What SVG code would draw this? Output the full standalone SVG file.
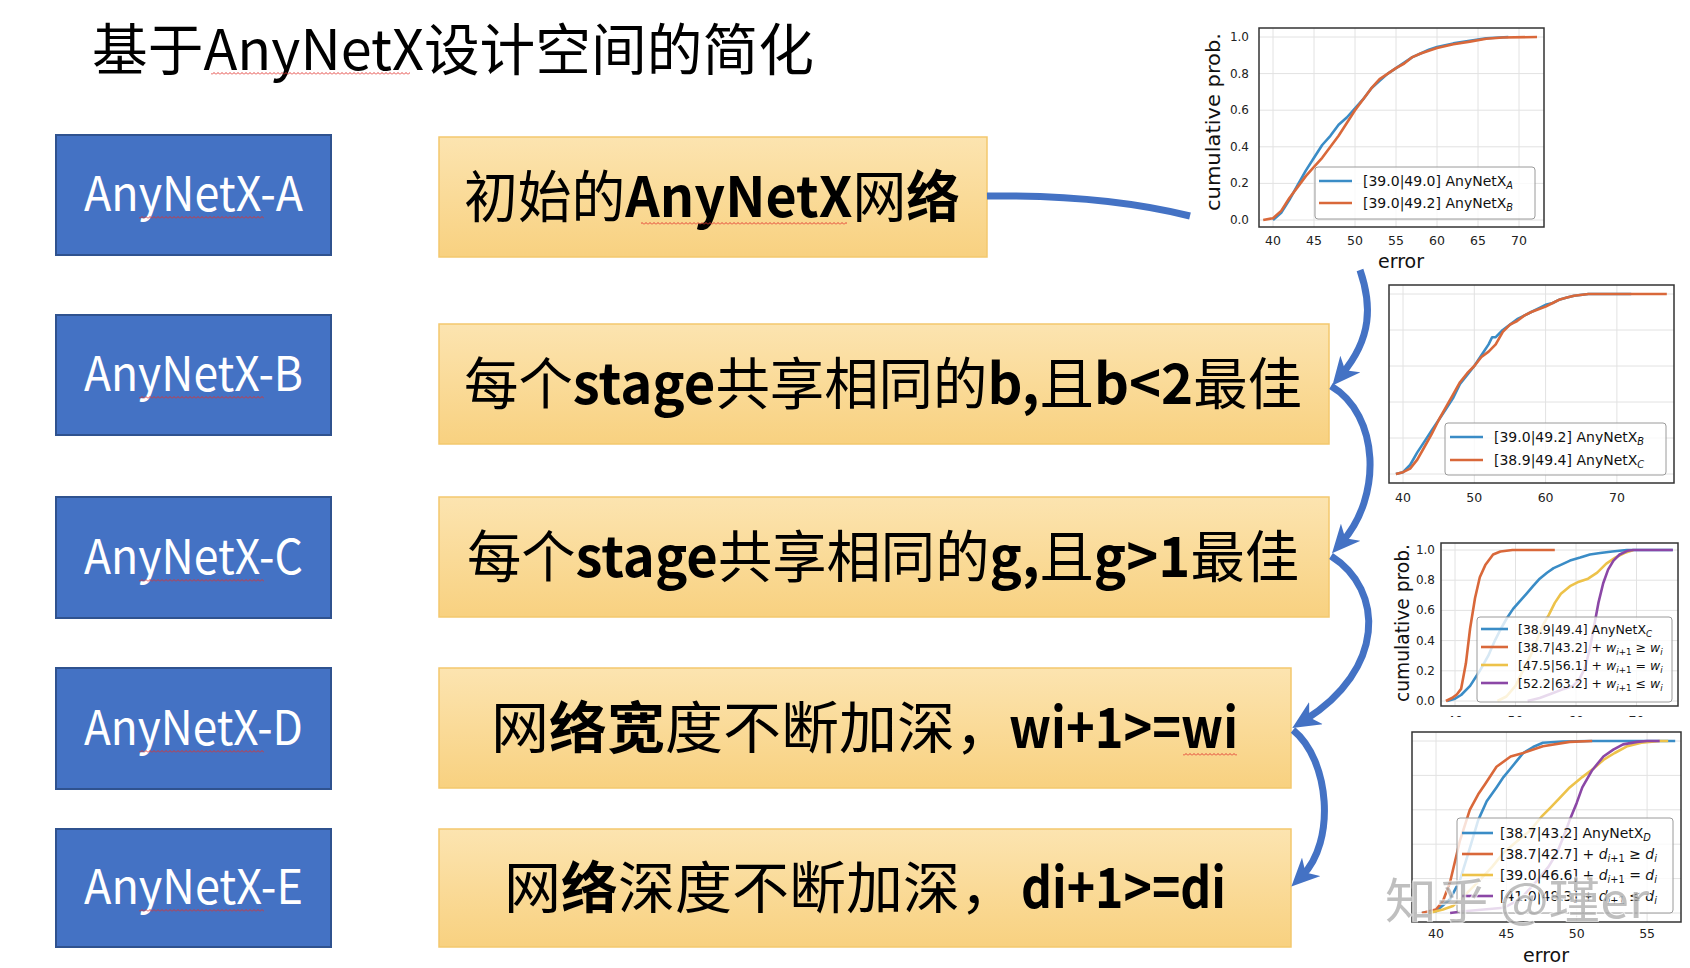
<svg xmlns="http://www.w3.org/2000/svg" width="1690" height="968" viewBox="0 0 1690 968">
<style>
  .blue { fill:#4472C4; stroke:#2F528F; stroke-width:2; }
  .yel { fill:url(#yg); stroke:#F3C86E; stroke-width:1.5; }
  .btxt { font-family:'Noto Sans CJK SC','Noto Sans',sans-serif; font-size:48px; fill:#fff; text-anchor:middle; }
  .ytxt { font-family:'Noto Sans CJK SC',sans-serif; font-size:56px; fill:#000; }
  .title { font-family:'Noto Sans CJK SC',sans-serif; font-size:56px; fill:#000; }
  .b { font-weight:700; }
  .conn { fill:none; stroke:#4472C4; stroke-width:7; }
  .axbg { fill:#fff; }
  .axfr { fill:none; stroke:#333; stroke-width:1.5; }
  .grid { stroke:#e2e2e2; stroke-width:1; fill:none; }
  .tickr { font-family:'DejaVu Sans',sans-serif; font-size:12px; fill:#222; text-anchor:end; }
  .tickm { font-family:'DejaVu Sans',sans-serif; font-size:12.5px; fill:#222; text-anchor:middle; }
  .lab { font-family:'DejaVu Sans',sans-serif; font-size:19px; fill:#111; text-anchor:middle; }
  .leg { fill:#fff; fill-opacity:0.8; stroke:#9a9a9a; stroke-width:1; }
  .lt { font-family:'DejaVu Sans',sans-serif; font-size:14px; fill:#111; }
  .lt3 { font-family:'DejaVu Sans',sans-serif; font-size:12.5px; fill:#111; }
  .mi { font-style:italic; }
  .sb { font-size:70%; font-style:italic; }
  .sbr { font-size:70%; }
  .ln { fill:none; stroke-width:2.6; stroke-linejoin:round; stroke-linecap:butt; }
  .cb { stroke:#3A8CC6; }
  .co { stroke:#D9683A; }
  .cy { stroke:#EDC24A; }
  .cp { stroke:#8B47A6; }
  .wm { font-family:'Noto Sans CJK SC',sans-serif; font-size:48px; fill:#a4a4a4; fill-opacity:0.7; stroke:#fff; stroke-width:2; stroke-opacity:0.7; paint-order:stroke; }
</style>
<defs>
  <linearGradient id="yg" x1="0" y1="0" x2="0" y2="1">
    <stop offset="0" stop-color="#FCE4B0"/>
    <stop offset="1" stop-color="#F8D180"/>
  </linearGradient>
  <marker id="arr" viewBox="0 0 28 26" refX="13" refY="13" markerWidth="28" markerHeight="26" markerUnits="userSpaceOnUse" orient="auto">
    <path d="M0,0 L28,13 L0,26 L8,13 Z" fill="#4472C4"/>
  </marker>
  <pattern id="sq" width="4" height="3" patternUnits="userSpaceOnUse">
    <path d="M0,2.5 L2,0.5 L4,2.5" fill="none" stroke="#E0302C" stroke-width="0.9"/>
  </pattern>
  <clipPath id="c3cut"><rect x="1430" y="700" width="250" height="17"/></clipPath>
</defs>

<rect width="1690" height="968" fill="#fff"/>

<!-- heading -->
<g id="title">
  <text class="title" x="92" y="70" textLength="722" lengthAdjust="spacingAndGlyphs">基于AnyNetX设计空间的简化</text>
  <rect x="211" y="72" width="199" height="3" fill="url(#sq)"/>
</g>

<!-- left column: design-space labels -->
<g id="node-anynetx-a">
  <rect class="blue" x="56" y="135" width="275" height="120"/>
  <text class="btxt" x="193.5" y="211" textLength="219" lengthAdjust="spacingAndGlyphs">AnyNetX-A</text>
  <rect x="139" y="216" width="125" height="3" fill="url(#sq)"/>
</g>
<g id="node-anynetx-b">
  <rect class="blue" x="56" y="315" width="275" height="120"/>
  <text class="btxt" x="193.5" y="391" textLength="219" lengthAdjust="spacingAndGlyphs">AnyNetX-B</text>
  <rect x="139" y="396" width="125" height="3" fill="url(#sq)"/>
</g>
<g id="node-anynetx-c">
  <rect class="blue" x="56" y="497" width="275" height="121"/>
  <text class="btxt" x="193.5" y="574" textLength="219" lengthAdjust="spacingAndGlyphs">AnyNetX-C</text>
  <rect x="139" y="579" width="125" height="3" fill="url(#sq)"/>
</g>
<g id="node-anynetx-d">
  <rect class="blue" x="56" y="668" width="275" height="121"/>
  <text class="btxt" x="193.5" y="745" textLength="219" lengthAdjust="spacingAndGlyphs">AnyNetX-D</text>
  <rect x="139" y="750" width="125" height="3" fill="url(#sq)"/>
</g>
<g id="node-anynetx-e">
  <rect class="blue" x="56" y="829" width="275" height="118"/>
  <text class="btxt" x="193.5" y="904" textLength="219" lengthAdjust="spacingAndGlyphs">AnyNetX-E</text>
  <rect x="139" y="909" width="125" height="3" fill="url(#sq)"/>
</g>

<!-- middle column: constraint descriptions -->
<g id="node-desc-a">
  <rect class="yel" x="439" y="137" width="548" height="120"/>
  <text class="ytxt" x="464" y="217" textLength="496" lengthAdjust="spacingAndGlyphs">初始的<tspan class="b">AnyNetX</tspan>网<tspan class="b">络</tspan></text>
  <rect x="641" y="222" width="206" height="3" fill="url(#sq)"/>
</g>
<g id="node-desc-b">
  <rect class="yel" x="439" y="324" width="890" height="120"/>
  <text class="ytxt" x="464" y="404" textLength="838" lengthAdjust="spacingAndGlyphs">每个<tspan class="b">stage</tspan>共享相同的<tspan class="b">b,</tspan>且<tspan class="b">b&lt;2</tspan>最佳</text>
</g>
<g id="node-desc-c">
  <rect class="yel" x="439" y="497" width="890" height="120"/>
  <text class="ytxt" x="467" y="577" textLength="832" lengthAdjust="spacingAndGlyphs">每个<tspan class="b">stage</tspan>共享相同的<tspan class="b">g,</tspan>且<tspan class="b">g&gt;1</tspan>最佳</text>
</g>
<g id="node-desc-d">
  <rect class="yel" x="439" y="668" width="852" height="120"/>
  <text class="ytxt" x="491" y="748"><tspan textLength="522" lengthAdjust="spacingAndGlyphs">网<tspan class="b">络宽</tspan>度不断加深，</tspan> <tspan class="b" x="1009" textLength="229" lengthAdjust="spacingAndGlyphs">wi+1&gt;=wi</tspan></text>
  <rect x="1183" y="753" width="54" height="3" fill="url(#sq)"/>
</g>
<g id="node-desc-e">
  <rect class="yel" x="439" y="829" width="852" height="118"/>
  <text class="ytxt" x="504" y="908"><tspan textLength="513" lengthAdjust="spacingAndGlyphs">网<tspan class="b">络</tspan>深度不断加深，</tspan> <tspan class="b" x="1021" textLength="205" lengthAdjust="spacingAndGlyphs">di+1&gt;=di</tspan></text>
</g>

<!-- right column: error distribution plots -->
<g id="chart-ab">
  <rect class="axbg" x="1259" y="28" width="285" height="199"/>
  <path class="grid" d="M1273,28V227 M1314,28V227 M1355,28V227 M1396,28V227 M1437,28V227 M1478,28V227 M1519,28V227 M1259,37H1544 M1259,73.6H1544 M1259,110.2H1544 M1259,146.8H1544 M1259,183.4H1544 M1259,220H1544"/>
  <polyline class="ln cb" points="1273,220 1281.2,212.7 1289.4,199.9 1297.6,185.2 1305.8,170.6 1314,157.8 1322.2,145 1330.4,135.8 1338.6,124.8 1346.8,117.5 1355,108.4 1363.2,99.2 1371.4,88.2 1379.6,80.9 1387.8,73.6 1396,68.1 1404.2,62.6 1412.4,57.1 1420.6,53.5 1428.8,49.8 1437,47.1 1453.4,43.4 1469.8,40.7 1486.2,38.3 1508.3,37"/>
  <polyline class="ln co" points="1263.2,220 1273,218.2 1281.2,210.9 1289.4,198 1297.6,187.1 1305.8,176.1 1314,166.9 1322.2,157.8 1330.4,146.8 1338.6,135.8 1346.8,123 1355,110.2 1363.2,99.2 1371.4,88.2 1379.6,79.1 1387.8,73.6 1396,68.1 1404.2,63.5 1412.4,57.1 1420.6,53.5 1428.8,50.7 1437,48 1453.4,44.3 1469.8,41.6 1486.2,38.8 1502.6,37.5 1537,37"/>
  <rect class="leg" x="1315" y="167" width="220" height="52" rx="3"/>
  <line class="ln cb" x1="1319" y1="181" x2="1352" y2="181"/>
  <line class="ln co" x1="1319" y1="203" x2="1352" y2="203"/>
  <text class="lt" x="1363" y="186">[39.0|49.0] AnyNetX<tspan class="sb" dy="3">A</tspan></text>
  <text class="lt" x="1363" y="208">[39.0|49.2] AnyNetX<tspan class="sb" dy="3">B</tspan></text>
  <rect class="axfr" x="1259" y="28" width="285" height="199"/>
  <g class="tickr">
    <text x="1249" y="224">0.0</text><text x="1249" y="187.4">0.2</text><text x="1249" y="150.8">0.4</text>
    <text x="1249" y="114.2">0.6</text><text x="1249" y="77.6">0.8</text><text x="1249" y="41">1.0</text>
  </g>
  <g class="tickm">
    <text x="1273" y="245">40</text><text x="1314" y="245">45</text><text x="1355" y="245">50</text><text x="1396" y="245">55</text>
    <text x="1437" y="245">60</text><text x="1478" y="245">65</text><text x="1519" y="245">70</text>
  </g>
  <text class="lab" x="1401" y="268">error</text>
  <text class="lab" transform="translate(1220,122) rotate(-90)" textLength="178" lengthAdjust="spacingAndGlyphs">cumulative prob.</text>
</g>

<g id="chart-bc">
  <rect class="axbg" x="1389" y="285" width="285" height="198"/>
  <path class="grid" d="M1403,285V483 M1474.3,285V483 M1545.6,285V483 M1616.9,285V483 M1389,294H1674 M1389,330H1674 M1389,366H1674 M1389,402H1674 M1389,438H1674 M1389,474H1674"/>
  <polyline class="ln cb" points="1395.9,474 1403,472.2 1410.1,465 1417.3,452.4 1424.4,441.6 1431.5,430.8 1438.7,420 1445.8,409.2 1452.9,398.4 1460,384 1467.2,375 1474.3,366 1481.4,355.2 1488.6,344.4 1492.1,337.2 1495.7,337.2 1502.8,330 1510,324.6 1517.1,319.2 1524.2,315.6 1531.3,312 1538.5,308.4 1545.6,304.8 1552.7,303 1559.9,299.4 1567,297.6 1574.1,295.8 1588.4,294 1631.2,294"/>
  <polyline class="ln co" points="1395.9,474 1403,472.2 1410.1,468.6 1417.3,459.6 1424.4,447 1431.5,434.4 1438.7,420 1445.8,407.4 1452.9,394.8 1460,382.2 1467.2,373.2 1474.3,366 1481.4,357 1488.6,351.6 1495.7,344.4 1502.8,331.8 1510,324.6 1517.1,321 1524.2,315.6 1531.3,312 1538.5,309.3 1545.6,306.6 1552.7,303 1559.9,299.4 1567,297.6 1574.1,295.8 1588.4,294 1666.8,294"/>
  <rect class="leg" x="1445" y="423" width="221" height="52" rx="3"/>
  <line class="ln cb" x1="1450" y1="437" x2="1483" y2="437"/>
  <line class="ln co" x1="1450" y1="460" x2="1483" y2="460"/>
  <text class="lt" x="1494" y="442" font-size="14.5">[39.0|49.2] AnyNetX<tspan class="sb" dy="3">B</tspan></text>
  <text class="lt" x="1494" y="465" font-size="14.5">[38.9|49.4] AnyNetX<tspan class="sb" dy="3">C</tspan></text>
  <rect class="axfr" x="1389" y="285" width="285" height="198"/>
  <g class="tickm">
    <text x="1403" y="502">40</text><text x="1474.3" y="502">50</text><text x="1545.6" y="502">60</text><text x="1616.9" y="502">70</text>
  </g>
</g>

<g id="chart-width">
  <rect class="axbg" x="1441" y="543" width="237" height="163"/>
  <path class="grid" d="M1455,543V706 M1515.5,543V706 M1576,543V706 M1636.5,543V706 M1441,550H1678 M1441,580.2H1678 M1441,610.4H1678 M1441,640.6H1678 M1441,670.8H1678 M1441,701H1678"/>
  <polyline class="ln cb" points="1447.1,701 1455,698.7 1461.1,695 1470.1,685.9 1479.8,670.8 1488.3,655.7 1494.9,640.6 1501,628.5 1507,618 1513.1,608.9 1519.7,601.3 1526.4,593.8 1533,586.2 1539.7,578.7 1547,572.7 1553.6,568.1 1560.3,565.1 1570,560.6 1580.2,557.6 1589.9,554.5 1600.2,553 1612.3,551.5 1626.8,550 1672.8,550"/>
  <polyline class="ln co" points="1445.9,701 1452,698 1456.8,694.5 1461.1,688.9 1465.9,663.3 1470.1,628.5 1475,598.3 1479.8,577.2 1485.3,565.1 1493.1,554.5 1500.4,551.5 1512.5,550 1554.8,550"/>
  <polyline class="ln cy" points="1497.4,701 1506.4,696.5 1515.5,685.9 1522.8,670.8 1530.6,655.7 1536.7,640.6 1542.7,625.5 1548.8,614.9 1554.8,602.9 1560.9,593.8 1570,586.2 1579,581.7 1588.1,578.7 1597.2,572.7 1606.3,563.6 1615.3,557.6 1624.4,553 1633.5,550"/>
  <polyline class="ln cp" points="1527.6,701 1539.7,698 1551.8,693.5 1563.9,688.9 1573,685.9 1579,679.9 1585.1,667.8 1589.9,648.2 1594.2,625.5 1598.4,602.9 1603.2,583.2 1608.1,569.6 1613.5,560.6 1619.6,554.5 1627.4,550.8 1633.5,550 1672.8,550"/>
  <rect class="leg" x="1477" y="617" width="195" height="85" rx="3"/>
  <line class="ln cb" x1="1481" y1="629" x2="1508" y2="629"/>
  <line class="ln co" x1="1481" y1="647" x2="1508" y2="647"/>
  <line class="ln cy" x1="1481" y1="665" x2="1508" y2="665"/>
  <line class="ln cp" x1="1481" y1="683" x2="1508" y2="683"/>
  <text class="lt3" x="1518" y="633.5">[38.9|49.4] AnyNetX<tspan class="sb" dy="3">C</tspan></text>
  <text class="lt3" x="1518" y="651.5">[38.7|43.2] + <tspan class="mi">w</tspan><tspan class="sb" dy="3">i</tspan><tspan class="sbr">+1</tspan><tspan dy="-3"> ≥ </tspan><tspan class="mi">w</tspan><tspan class="sb" dy="3">i</tspan></text>
  <text class="lt3" x="1518" y="669.5">[47.5|56.1] + <tspan class="mi">w</tspan><tspan class="sb" dy="3">i</tspan><tspan class="sbr">+1</tspan><tspan dy="-3"> = </tspan><tspan class="mi">w</tspan><tspan class="sb" dy="3">i</tspan></text>
  <text class="lt3" x="1518" y="687.5">[52.2|63.2] + <tspan class="mi">w</tspan><tspan class="sb" dy="3">i</tspan><tspan class="sbr">+1</tspan><tspan dy="-3"> ≤ </tspan><tspan class="mi">w</tspan><tspan class="sb" dy="3">i</tspan></text>
  <rect class="axfr" x="1441" y="543" width="237" height="163"/>
  <g class="tickr" font-size="11">
    <text x="1435" y="705">0.0</text><text x="1435" y="674.8">0.2</text><text x="1435" y="644.6">0.4</text>
    <text x="1435" y="614.4">0.6</text><text x="1435" y="584.2">0.8</text><text x="1435" y="554">1.0</text>
  </g>
  <g class="tickm" clip-path="url(#c3cut)">
    <text x="1455" y="725">40</text><text x="1515.5" y="725">50</text><text x="1576" y="725">60</text><text x="1636.5" y="725">70</text>
  </g>
  <text class="lab" transform="translate(1409,623) rotate(-90)" font-size="16" textLength="158" lengthAdjust="spacingAndGlyphs">cumulative prob.</text>
</g>

<g id="chart-depth">
  <rect class="axbg" x="1412" y="732" width="269" height="190"/>
  <path class="grid" d="M1436,732V922 M1506.4,732V922 M1576.7,732V922 M1647.1,732V922 M1412,741H1681 M1412,775.4H1681 M1412,809.8H1681 M1412,844.2H1681 M1412,878.6H1681 M1412,913H1681"/>
  <polyline class="ln cb" points="1421.9,913 1436,911.3 1450.1,899.2 1459.9,880.3 1468.4,852.8 1478.2,820.1 1486.7,801.2 1496.5,787.4 1503.5,777.1 1510.6,768.5 1517.6,759.9 1523.2,753 1533.1,747 1542.9,742.7 1562.6,741.5 1590.8,741 1675.2,741"/>
  <polyline class="ln co" points="1421.9,913 1436,909.6 1443,901 1450.1,882 1459.9,840.8 1469.8,809.8 1478.2,794.3 1485.2,784 1496.5,766.8 1510.6,756.5 1523.2,753 1542.9,746.2 1569.7,741.9 1592.2,741"/>
  <polyline class="ln cy" points="1429,913 1443,909.6 1452.9,906.1 1464.1,895.8 1479.6,880.3 1492.3,866.6 1503.5,852.8 1517.6,840.8 1530.3,830.4 1541.5,816.7 1550,808.1 1559.8,797.8 1569.7,787.4 1582.3,777.1 1593.6,768.5 1603.4,759.9 1614.7,753 1627.4,746.2 1641.4,742.7 1659.7,741 1668.2,741"/>
  <polyline class="ln cp" points="1450.1,913 1464.1,911.3 1503.5,907.8 1520.4,899.2 1537.3,880.3 1548.6,866.6 1557,852.8 1564,835.6 1569.7,820.1 1576.7,802.9 1582.3,787.4 1592.2,770.2 1603.4,756.5 1613.3,749.6 1623.1,744.4 1637.2,741.9 1647.1,741 1659.7,741"/>
  <rect class="leg" x="1457" y="818" width="216" height="95" rx="3"/>
  <line class="ln cb" x1="1462" y1="833" x2="1493" y2="833"/>
  <line class="ln co" x1="1462" y1="854" x2="1493" y2="854"/>
  <line class="ln cy" x1="1462" y1="875" x2="1493" y2="875"/>
  <line class="ln cp" x1="1462" y1="896" x2="1493" y2="896"/>
  <text class="lt" x="1500" y="838">[38.7|43.2] AnyNetX<tspan class="sb" dy="3">D</tspan></text>
  <text class="lt" x="1500" y="859">[38.7|42.7] + <tspan class="mi">d</tspan><tspan class="sb" dy="3">i</tspan><tspan class="sbr">+1</tspan><tspan dy="-3"> ≥ </tspan><tspan class="mi">d</tspan><tspan class="sb" dy="3">i</tspan></text>
  <text class="lt" x="1500" y="880">[39.0|46.6] + <tspan class="mi">d</tspan><tspan class="sb" dy="3">i</tspan><tspan class="sbr">+1</tspan><tspan dy="-3"> = </tspan><tspan class="mi">d</tspan><tspan class="sb" dy="3">i</tspan></text>
  <text class="lt" x="1500" y="901">[41.0|48.3] + <tspan class="mi">d</tspan><tspan class="sb" dy="3">i</tspan><tspan class="sbr">+1</tspan><tspan dy="-3"> ≤ </tspan><tspan class="mi">d</tspan><tspan class="sb" dy="3">i</tspan></text>
  <rect class="axfr" x="1412" y="732" width="269" height="190"/>
  <g class="tickm">
    <text x="1436" y="938">40</text><text x="1506.4" y="938">45</text><text x="1576.7" y="938">50</text><text x="1647.1" y="938">55</text>
  </g>
  <text class="lab" x="1546" y="962">error</text>
</g>

<!-- connectors between stages -->
<g id="connectors">
  <path class="conn" d="M987,196 C1060,195 1130,201 1190,216"/>
  <path class="conn" d="M1360,270 C1372,305 1372,338 1342,374" marker-end="url(#arr)"/>
  <path class="conn" d="M1331,386 C1380,415 1382,497 1342,542" marker-end="url(#arr)"/>
  <path class="conn" d="M1331,556 C1385,590 1385,670 1305,720" marker-end="url(#arr)"/>
  <path class="conn" d="M1293,730 C1330,760 1336,842 1302,876" marker-end="url(#arr)"/>
</g>

<g id="watermark">
  <text class="wm" x="1385" y="918" textLength="264" lengthAdjust="spacingAndGlyphs">知乎 @瑾er</text>
</g>
</svg>
